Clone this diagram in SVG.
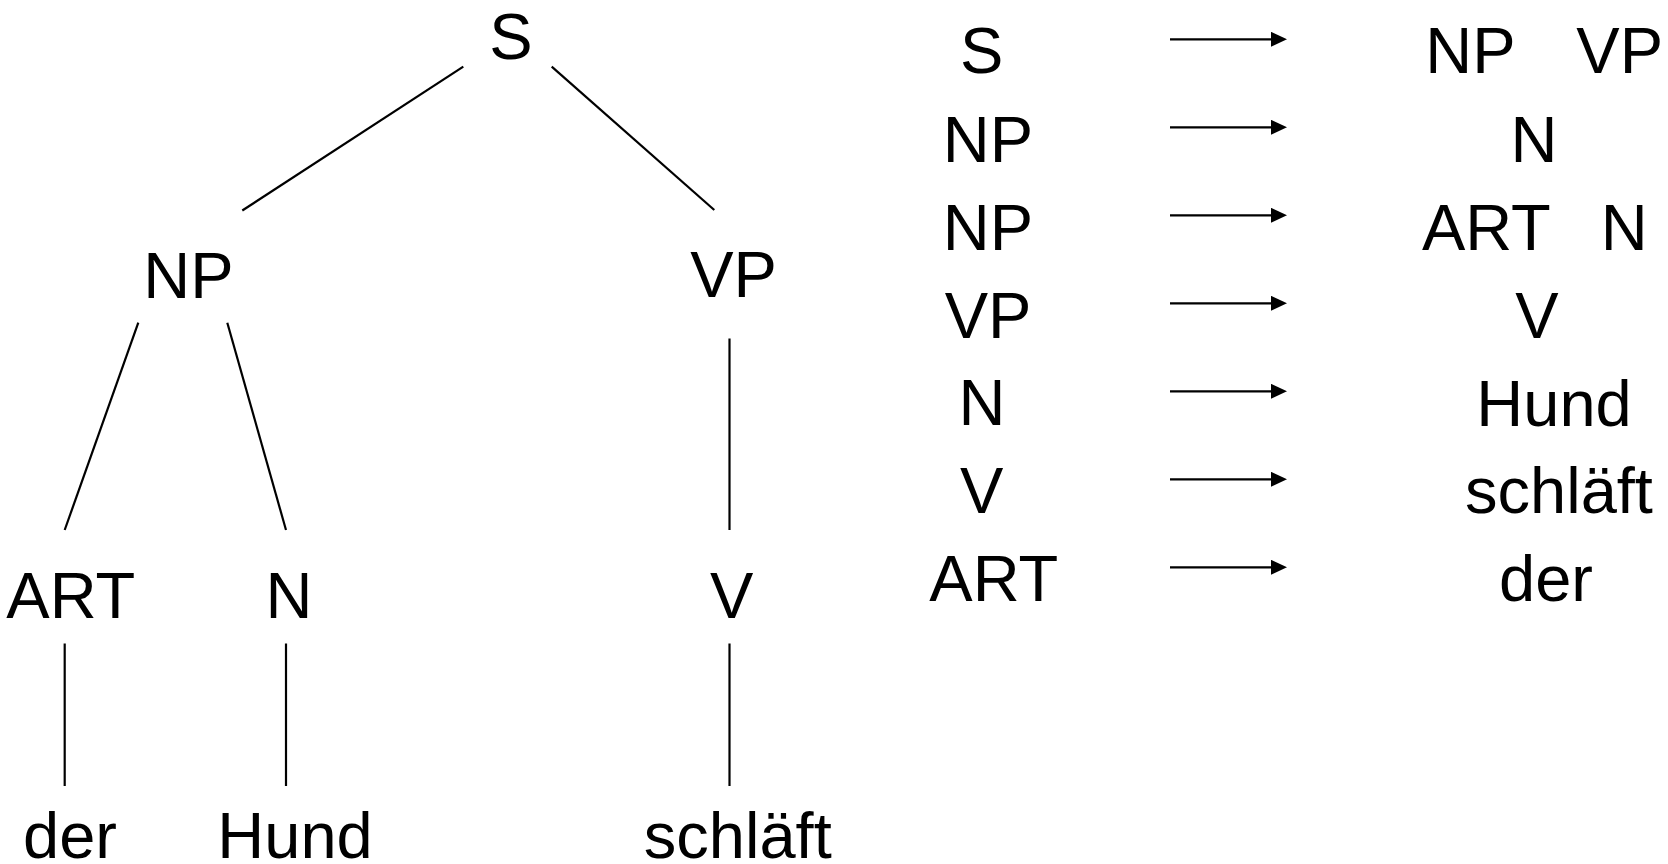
<svg xmlns="http://www.w3.org/2000/svg" width="1668" height="864" viewBox="0 0 1668 864">
<style>
text{font-family:"Liberation Sans",Arial,sans-serif;font-size:65px;fill:#000;text-anchor:middle}
.e{stroke:#000;stroke-width:2.2;fill:none}
.a{stroke:#000;stroke-width:2.2;fill:none;marker-end:url(#ah)}
</style>
<defs>
<marker id="ah" markerUnits="userSpaceOnUse" markerWidth="17" markerHeight="16" refX="0" refY="7.5" orient="auto">
<path d="M0,0 L16,7.5 L0,15 z" fill="#000"/>
</marker>
</defs>
<rect width="1668" height="864" fill="#fff"/>
<g id="connectors">
<line class="e" x1="463.3" y1="66.7" x2="242.3" y2="210.5"/>
<line class="e" x1="551.7" y1="66.7" x2="714.3" y2="210"/>
<line class="e" x1="138.3" y1="322.7" x2="64.7" y2="530"/>
<line class="e" x1="227.3" y1="322.7" x2="286" y2="530"/>
<line class="e" x1="729.5" y1="338.5" x2="729.5" y2="530"/>
<line class="e" x1="64.7" y1="643.5" x2="64.7" y2="786"/>
<line class="e" x1="286" y1="643.5" x2="286" y2="786"/>
<line class="e" x1="729.5" y1="643.5" x2="729.5" y2="786"/>
<line class="a" x1="1170" y1="39.3" x2="1271" y2="39.3"/>
<line class="a" x1="1170" y1="127.3" x2="1271" y2="127.3"/>
<line class="a" x1="1170" y1="215.3" x2="1271" y2="215.3"/>
<line class="a" x1="1170" y1="303.3" x2="1271" y2="303.3"/>
<line class="a" x1="1170" y1="391.3" x2="1271" y2="391.3"/>
<line class="a" x1="1170" y1="479.3" x2="1271" y2="479.3"/>
<line class="a" x1="1170" y1="567.3" x2="1271" y2="567.3"/>
</g>
<g id="n-S"><text x="511" y="58.5">S</text></g>
<g id="n-NP"><text x="188.5" y="297.8">NP</text></g>
<g id="n-VP"><text x="733.5" y="297.3">VP</text></g>
<g id="n-ART"><text x="70.7" y="618">ART</text></g>
<g id="n-N"><text x="289" y="618">N</text></g>
<g id="n-V"><text x="731.7" y="618">V</text></g>
<g id="n-der"><text x="70" y="858">der</text></g>
<g id="n-Hund"><text x="295" y="858">Hund</text></g>
<g id="n-schlaeft"><text x="737.8" y="858">schläft</text></g>
<g id="rules">
<text x="981.7" y="73">S</text>
<text x="988" y="161.5">NP</text>
<text x="988" y="249.5">NP</text>
<text x="988" y="337.8">VP</text>
<text x="982" y="425.3">N</text>
<text x="981.7" y="513">V</text>
<text x="993.7" y="601">ART</text>
<text x="1470.5" y="72.7">NP</text>
<text x="1619.7" y="72.7">VP</text>
<text x="1534" y="161.5">N</text>
<text x="1486.4" y="249.5">ART</text>
<text x="1624.2" y="249.5">N</text>
<text x="1537" y="337.8">V</text>
<text x="1554" y="425.8">Hund</text>
<text x="1559" y="513.3">schläft</text>
<text x="1546" y="601">der</text>
</g>
</svg>
